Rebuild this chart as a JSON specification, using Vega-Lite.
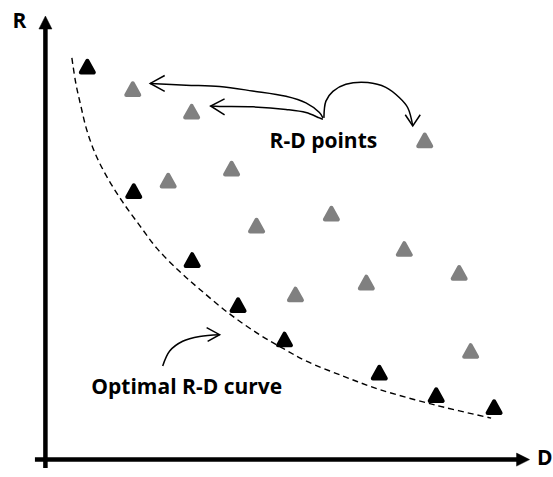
{
  "$schema": "https://vega.github.io/schema/vega-lite/v6.json",
  "width": 553,
  "height": 477,
  "padding": 0,
  "autosize": {"type": "fit", "contains": "padding"},
  "background": "white",
  "config": {"view": {"stroke": null}},
  "datasets": {
    "rd_points": [
      {"D": 8.4, "R": 89.0, "kind": "optimal"},
      {"D": 17.7, "R": 60.8, "kind": "optimal"},
      {"D": 29.4, "R": 45.2, "kind": "optimal"},
      {"D": 38.6, "R": 35.0, "kind": "optimal"},
      {"D": 47.9, "R": 27.2, "kind": "optimal"},
      {"D": 66.9, "R": 19.7, "kind": "optimal"},
      {"D": 78.3, "R": 14.6, "kind": "optimal"},
      {"D": 89.9, "R": 11.9, "kind": "optimal"},
      {"D": 17.5, "R": 83.9, "kind": "other"},
      {"D": 29.3, "R": 78.8, "kind": "other"},
      {"D": 24.6, "R": 63.2, "kind": "other"},
      {"D": 37.3, "R": 65.9, "kind": "other"},
      {"D": 42.3, "R": 53.0, "kind": "other"},
      {"D": 57.3, "R": 55.7, "kind": "other"},
      {"D": 76.0, "R": 72.3, "kind": "other"},
      {"D": 71.9, "R": 47.7, "kind": "other"},
      {"D": 64.3, "R": 40.1, "kind": "other"},
      {"D": 82.9, "R": 42.3, "kind": "other"},
      {"D": 85.2, "R": 24.6, "kind": "other"},
      {"D": 50.1, "R": 37.4, "kind": "other"}
    ],
    "hull": [
      {"D": 5.3, "R": 91.0}, {"D": 6.1, "R": 85.2}, {"D": 7.1, "R": 80.1},
      {"D": 8.3, "R": 74.6}, {"D": 10.1, "R": 69.0}, {"D": 12.5, "R": 63.7},
      {"D": 15.5, "R": 58.3}, {"D": 18.9, "R": 53.0}, {"D": 22.3, "R": 47.9},
      {"D": 26.9, "R": 42.6}, {"D": 30.9, "R": 38.6}, {"D": 36.9, "R": 33.0},
      {"D": 42.9, "R": 28.3}, {"D": 47.9, "R": 25.0}, {"D": 52.3, "R": 22.3},
      {"D": 59.9, "R": 18.8}, {"D": 66.9, "R": 15.9}, {"D": 78.3, "R": 12.3},
      {"D": 89.3, "R": 9.4}
    ],
    "arrows": [
      {"id": "a", "i": 0, "D": 21.0, "R": 85.2}, {"id": "a", "i": 1, "D": 28.2, "R": 84.8},
      {"id": "a", "i": 2, "D": 34.9, "R": 84.5}, {"id": "a", "i": 3, "D": 41.5, "R": 83.5},
      {"id": "a", "i": 4, "D": 48.2, "R": 82.3}, {"id": "a", "i": 5, "D": 52.2, "R": 80.8},
      {"id": "a", "i": 6, "D": 54.9, "R": 78.6}, {"id": "a", "i": 7, "D": 55.6, "R": 77.4},
      {"id": "b", "i": 0, "D": 33.1, "R": 80.1}, {"id": "b", "i": 1, "D": 34.9, "R": 80.0},
      {"id": "b", "i": 2, "D": 41.6, "R": 79.9}, {"id": "b", "i": 3, "D": 48.2, "R": 79.3},
      {"id": "b", "i": 4, "D": 52.2, "R": 78.6}, {"id": "b", "i": 5, "D": 54.9, "R": 77.4},
      {"id": "b", "i": 6, "D": 55.6, "R": 77.1},
      {"id": "c", "i": 0, "D": 55.8, "R": 77.4}, {"id": "c", "i": 1, "D": 56.2, "R": 81.2},
      {"id": "c", "i": 2, "D": 57.6, "R": 83.4}, {"id": "c", "i": 3, "D": 60.2, "R": 85.0},
      {"id": "c", "i": 4, "D": 64.6, "R": 85.4}, {"id": "c", "i": 5, "D": 68.2, "R": 84.3},
      {"id": "c", "i": 6, "D": 70.9, "R": 82.0}, {"id": "c", "i": 7, "D": 72.6, "R": 79.7},
      {"id": "c", "i": 8, "D": 73.6, "R": 75.6},
      {"id": "d", "i": 0, "D": 23.5, "R": 21.2}, {"id": "d", "i": 1, "D": 24.9, "R": 24.6},
      {"id": "d", "i": 2, "D": 27.5, "R": 26.8}, {"id": "d", "i": 3, "D": 30.9, "R": 27.9},
      {"id": "d", "i": 4, "D": 34.9, "R": 28.3}
    ],
    "heads": [
      {"id": "a", "i": 0, "D": 23.9, "R": 87.0}, {"id": "a", "i": 1, "D": 21.0, "R": 85.2}, {"id": "a", "i": 2, "D": 23.9, "R": 83.4},
      {"id": "b", "i": 0, "D": 35.9, "R": 81.7}, {"id": "b", "i": 1, "D": 33.1, "R": 80.1}, {"id": "b", "i": 2, "D": 35.9, "R": 78.1},
      {"id": "c", "i": 0, "D": 72.1, "R": 78.1}, {"id": "c", "i": 1, "D": 73.6, "R": 75.6}, {"id": "c", "i": 2, "D": 75.1, "R": 78.1},
      {"id": "d", "i": 0, "D": 32.3, "R": 29.9}, {"id": "d", "i": 1, "D": 34.9, "R": 28.3}, {"id": "d", "i": 2, "D": 32.5, "R": 26.8}
    ],
    "axes": [
      {"id": "R", "i": 0, "D": 0, "R": -1.9}, {"id": "R", "i": 1, "D": 0, "R": 97.7},
      {"id": "D", "i": 0, "D": -2.1, "R": 0}, {"id": "D", "i": 1, "D": 94.5, "R": 0}
    ],
    "axis_tips": [
      {"axis": "R", "D": 0, "R": 99.0},
      {"axis": "D", "D": 95.7, "R": 0}
    ],
    "labels": [
      {"D": -6.6, "R": 97.7, "text": "R"},
      {"D": 98.5, "R": -1.2, "text": "D"},
      {"D": 44.9, "R": 70.6, "text": "R-D points"},
      {"D": 9.2, "R": 14.8, "text": "Optimal R-D curve"}
    ]
  },
  "encoding": {
    "x": {"field": "D", "type": "quantitative", "scale": {"domain": [-9.1, 101.5], "nice": false, "zero": false}, "axis": null},
    "y": {"field": "R", "type": "quantitative", "scale": {"domain": [-1.9, 104.1], "nice": false, "zero": false}, "axis": null}
  },
  "layer": [
    {
      "data": {"name": "axes"},
      "mark": {"type": "line", "stroke": "black", "strokeWidth": 4.5, "strokeCap": "butt"},
      "encoding": {"detail": {"field": "id"}, "order": {"field": "i"}}
    },
    {
      "data": {"name": "axis_tips"},
      "transform": [{"filter": "datum.axis === 'R'"}],
      "mark": {"type": "point", "shape": "M0,-1L1,1L-1,1Z", "size": 169, "filled": true, "fill": "black", "stroke": "black", "strokeWidth": 0.5, "opacity": 1},
      "encoding": {}
    },
    {
      "data": {"name": "axis_tips"},
      "transform": [{"filter": "datum.axis === 'D'"}],
      "mark": {"type": "point", "shape": "M1,0L-1,-1L-1,1Z", "size": 169, "filled": true, "fill": "black", "stroke": "black", "strokeWidth": 0.5, "opacity": 1},
      "encoding": {}
    },
    {
      "data": {"name": "hull"},
      "mark": {"type": "line", "stroke": "black", "strokeWidth": 1.4, "strokeDash": [6, 4], "interpolate": "catmull-rom"},
      "encoding": {}
    },
    {
      "data": {"name": "arrows"},
      "mark": {"type": "line", "stroke": "black", "strokeWidth": 1.5, "interpolate": "catmull-rom"},
      "encoding": {"detail": {"field": "id"}, "order": {"field": "i"}}
    },
    {
      "data": {"name": "heads"},
      "mark": {"type": "line", "stroke": "black", "strokeWidth": 1.5, "strokeJoin": "miter"},
      "encoding": {"detail": {"field": "id"}, "order": {"field": "i"}}
    },
    {
      "data": {"name": "rd_points"},
      "mark": {"type": "point", "shape": "M0,-0.9L1,0.9L-1,0.9Z", "size": 169, "filled": true, "strokeWidth": 4, "strokeJoin": "round", "opacity": 1},
      "encoding": {
        "fill": {"field": "kind", "type": "nominal", "scale": {"domain": ["optimal", "other"], "range": ["#000000", "#808080"]}, "legend": null},
        "stroke": {"field": "kind", "type": "nominal", "scale": {"domain": ["optimal", "other"], "range": ["#000000", "#808080"]}, "legend": null}
      }
    },
    {
      "data": {"name": "labels"},
      "mark": {"type": "text", "font": "Open Sans", "fontWeight": "bold", "fontSize": 21, "align": "left", "baseline": "alphabetic", "color": "black"},
      "encoding": {"text": {"field": "text"}}
    }
  ]
}
